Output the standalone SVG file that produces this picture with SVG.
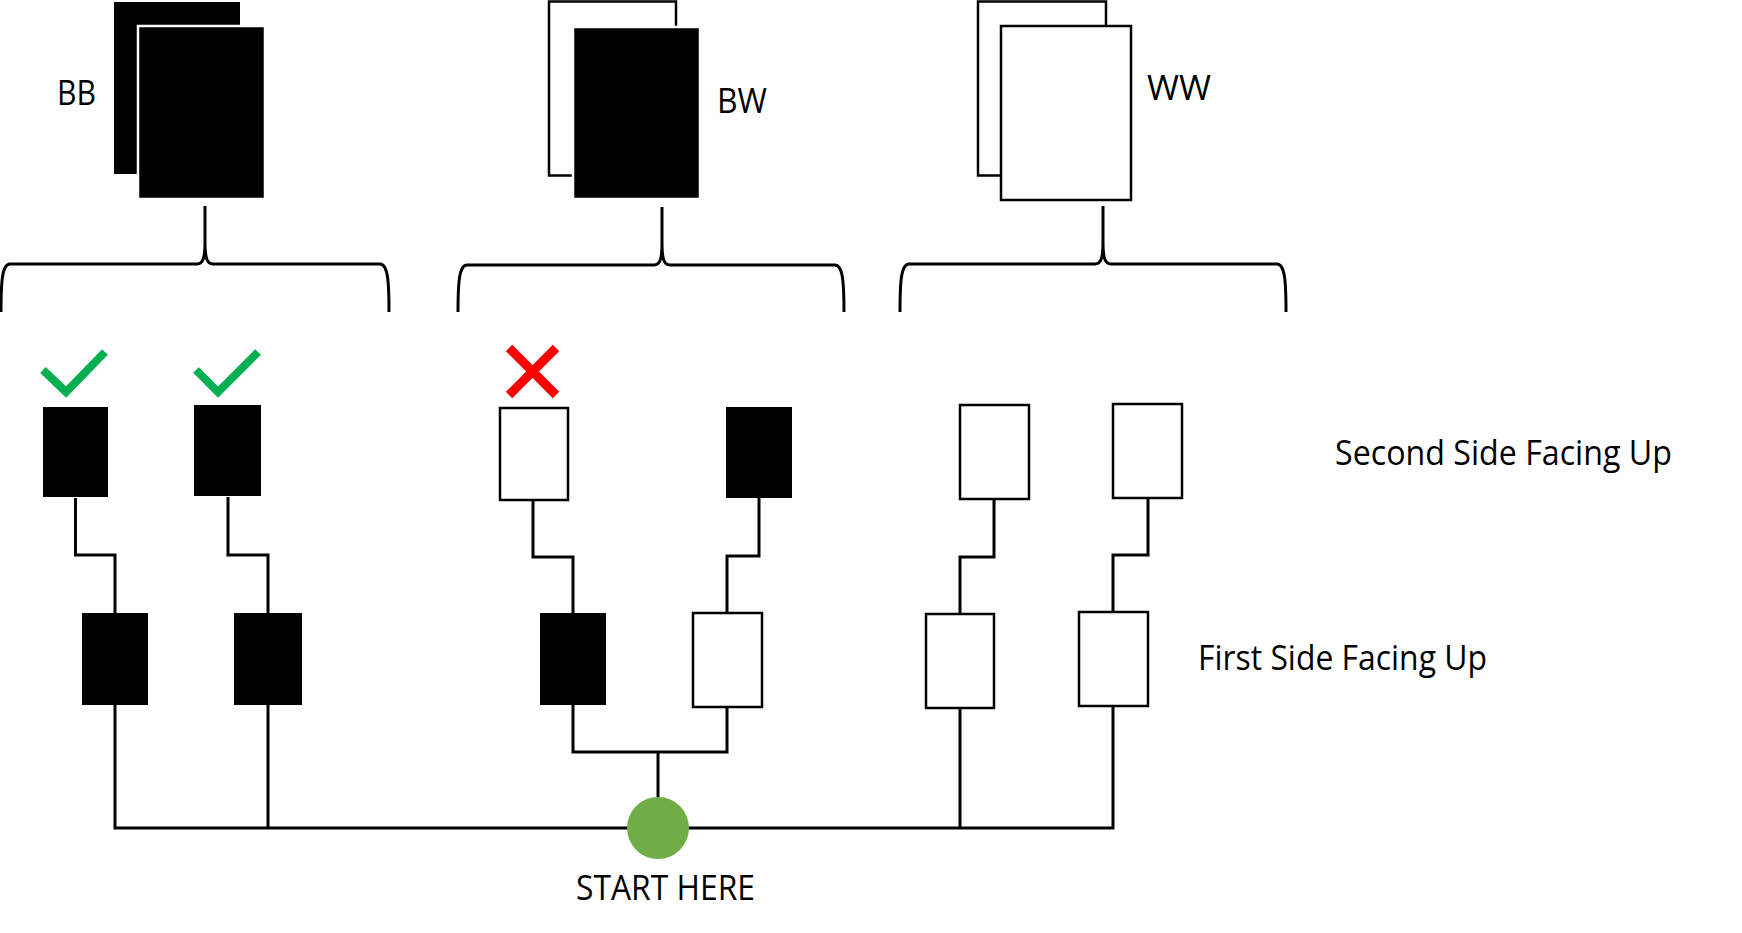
<svg xmlns="http://www.w3.org/2000/svg" width="1742" height="933" viewBox="0 0 1742 933">
<style>
.lbl{font-family:"Open Sans","Liberation Sans",sans-serif;font-size:34px;fill:#000}
.blk{fill:#000}
.front{fill:#000;stroke:#fff;stroke-width:2.5}
.wht{fill:#fff;stroke:#000;stroke-width:2.5}
.line{fill:none;stroke:#000;stroke-width:3}
.brace{fill:none;stroke:#000;stroke-width:3}
.ok{fill:none;stroke:#00B050;stroke-width:8}
.no{fill:none;stroke:#FF0000;stroke-width:9}
</style>
<rect width="1742" height="933" fill="#fff"/>
<g id="connectors">
<path class="line" d="M75.5,498 V555 H115 V613"/>
<path class="line" d="M228,497 V555 H268 V613"/>
<path class="line" d="M533,500 V557 H573 V613"/>
<path class="line" d="M759,498 V556 H727 V612"/>
<path class="line" d="M994,499 V557 H960 V614"/>
<path class="line" d="M1148,498 V555 H1113 V611"/>
<path class="line" d="M573,705 V752 H727 V707"/>
<path class="line" d="M658,752 V800"/>
<path class="line" d="M115,705 V828 H1113 V706"/>
<path class="line" d="M268,705 V828"/>
<path class="line" d="M960,708 V828"/>
</g>
<g id="stack-bb">
<rect x="114" y="2" width="126" height="172" fill="#000"/>
<rect class="front" x="138" y="26" width="127" height="173"/>
<text class="lbl" x="57" y="105" textLength="39" lengthAdjust="spacingAndGlyphs">BB</text>
</g>
<g id="stack-bw">
<rect class="wht" x="549" y="1.5" width="127" height="174"/>
<rect class="front" x="573" y="27" width="127" height="172"/>
<text class="lbl" x="717" y="113" textLength="50" lengthAdjust="spacingAndGlyphs">BW</text>
</g>
<g id="stack-ww">
<rect class="wht" x="978" y="1.5" width="128" height="174"/>
<rect class="wht" x="1001" y="26" width="130" height="174"/>
<text class="lbl" x="1147" y="100" textLength="64" lengthAdjust="spacingAndGlyphs">WW</text>
</g>
<g id="braces">
<path class="brace" d="M1,312 C1,282 2,264 10,264 L197,264 C203,264 205,258 205,242 L205,206 L205,242 C205,258 207,264 213,264 L380,264 C388,264 389,282 389,312"/>
<path class="brace" d="M458,312 C458,283 459,265 467,265 L654,265 C660,265 662,259 662,243 L662,207 L662,243 C662,259 664,265 670,265 L835,265 C843,265 844,283 844,312"/>
<path class="brace" d="M900,312 C900,282 901,264 909,264 L1095,264 C1101,264 1103,258 1103,242 L1103,206 L1103,242 C1103,258 1105,264 1111,264 L1277,264 C1285,264 1286,282 1286,312"/>
</g>
<g id="marks">
<polyline class="ok" points="43,370 66,392 105,352"/>
<polyline class="ok" points="196,370 218,392 258,352"/>
<path class="no" d="M509,348 L556,395 M556,348 L509,395"/>
</g>
<g id="bb-second-1"><rect class="blk" x="43" y="407" width="65" height="90"/></g>
<g id="bb-second-2"><rect class="blk" x="194" y="405" width="67" height="91"/></g>
<g id="bw-second-1"><rect class="wht" x="500" y="408" width="68" height="92"/></g>
<g id="bw-second-2"><rect class="blk" x="726" y="407" width="66" height="91"/></g>
<g id="ww-second-1"><rect class="wht" x="960" y="405" width="69" height="94"/></g>
<g id="ww-second-2"><rect class="wht" x="1113" y="404" width="69" height="94"/></g>
<g id="bb-first-1"><rect class="blk" x="82" y="613" width="66" height="92"/></g>
<g id="bb-first-2"><rect class="blk" x="234" y="613" width="68" height="92"/></g>
<g id="bw-first-1"><rect class="blk" x="540" y="613" width="66" height="92"/></g>
<g id="bw-first-2"><rect class="wht" x="693" y="613" width="69" height="94"/></g>
<g id="ww-first-1"><rect class="wht" x="926" y="614" width="68" height="94"/></g>
<g id="ww-first-2"><rect class="wht" x="1079" y="612" width="69" height="94"/></g>
<g id="start">
<circle cx="658" cy="828" r="31" fill="#70AD47"/>
<text class="lbl" x="576" y="900" textLength="179" lengthAdjust="spacingAndGlyphs">START HERE</text>
</g>
<g id="row-labels">
<text class="lbl" x="1335" y="465" textLength="337" lengthAdjust="spacingAndGlyphs">Second Side Facing Up</text>
<text class="lbl" x="1198" y="670" textLength="289" lengthAdjust="spacingAndGlyphs">First Side Facing Up</text>
</g>
</svg>
